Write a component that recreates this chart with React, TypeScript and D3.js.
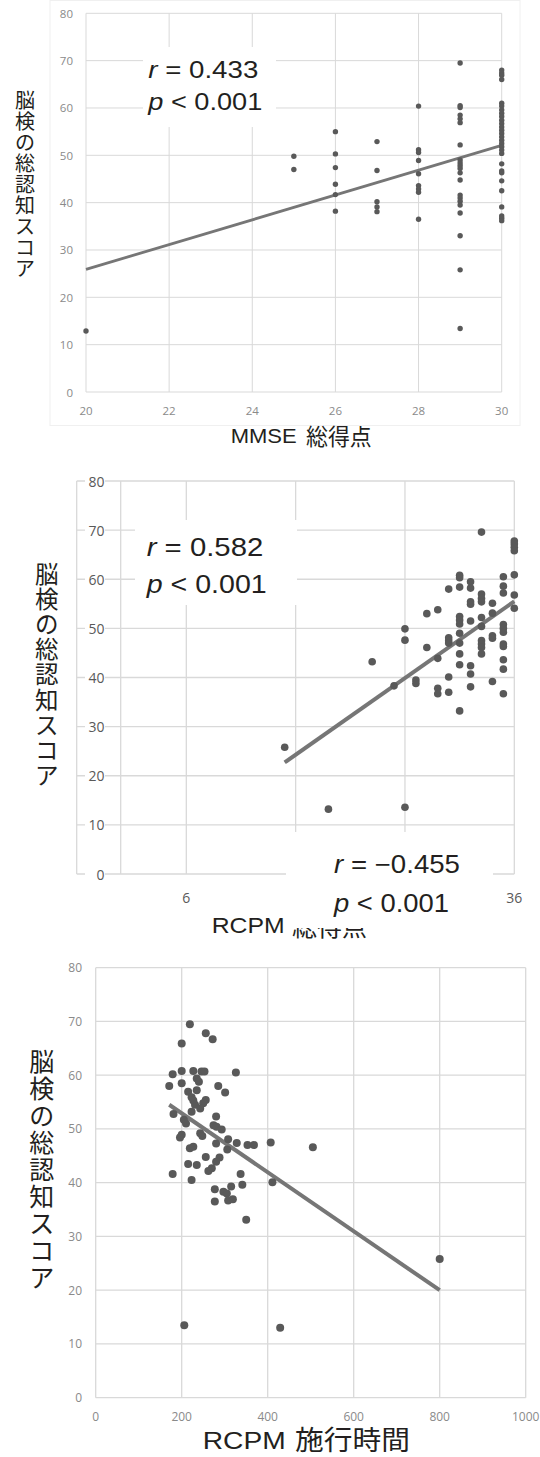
import React from 'react';
import * as d3 from 'd3';

// ---------- Data ----------
const yTitle = '脳検の総認知スコア';
const yTicks = [0, 10, 20, 30, 40, 50, 60, 70, 80];

// Chart 1: MMSE total vs score
const mmseX = [
  20,
  25, 25,
  26, 26, 26, 26, 26, 26,
  27, 27, 27, 27, 27,
  28, 28, 28, 28, 28, 28, 28, 28, 28,
  29, 29, 29, 29, 29, 29, 29, 29, 29, 29, 29, 29, 29, 29, 29, 29, 29, 29, 29, 29, 29,
  30, 30, 30, 30, 30, 30, 30, 30, 30, 30, 30, 30, 30, 30, 30, 30, 30, 30, 30, 30, 30, 30, 30, 30, 30, 30, 30, 30, 30,
];
const mmseY = [
  12.9,
  49.8, 47.0,
  55.0, 50.3, 47.4, 43.9, 41.7, 38.2,
  52.9, 46.8, 40.2, 39.1, 38.1,
  60.4, 51.2, 50.6, 48.9, 46.1, 43.6, 42.9, 42.2, 36.5,
  69.5, 60.5, 60.1, 58.5, 57.7, 56.9, 52.2, 49.0, 48.4, 47.8, 47.2, 46.3, 44.8, 41.6, 41.0, 40.3, 39.5, 37.8, 33.0, 25.8, 13.4,
  68.0, 67.4, 66.9, 66.0, 61.0, 60.4, 59.6, 58.9, 58.2, 57.4, 56.7, 56.0, 55.3, 54.6, 53.9, 53.2, 52.5, 51.8, 51.1, 50.4, 48.2, 46.7, 46.3, 44.6, 42.5, 39.1, 37.2, 36.7, 36.2,
];
const mmseTrendX = [20, 30];
const mmseTrendY = [25.9, 52.1];
const mmseXTicks = [20, 22, 24, 26, 28, 30];

// Chart 2: RCPM total vs score
const rcpmX = [
  15, 19, 26, 23, 25, 26, 26, 27, 27, 28, 28, 29, 29, 29, 29,
  30, 30, 30, 30, 30, 30,
  31, 31, 31, 31, 31, 31, 31, 31, 31, 31, 31,
  32, 32, 32, 32, 32, 32, 32, 32,
  33, 33, 33, 33, 33, 33, 33, 33, 33, 33,
  34, 34, 34, 34, 34,
  35, 35, 35, 35, 35, 35, 35, 35, 35, 35, 35,
  36, 36, 36, 36, 36, 36, 36,
];
const rcpmY = [
  25.8, 13.2, 13.6, 43.2, 38.3, 49.9, 47.6, 39.5, 38.8, 53.0, 46.1, 53.8, 43.9, 37.8, 36.7,
  58.0, 48.1, 47.5, 47.0, 40.1, 37.0,
  60.8, 60.3, 58.4, 52.4, 51.7, 50.9, 49.0, 47.0, 44.8, 42.6, 33.2,
  59.5, 58.2, 55.4, 54.9, 51.5, 42.4, 40.7, 38.1,
  69.6, 57.0, 56.1, 55.4, 52.2, 50.4, 47.5, 46.8, 46.1, 44.8,
  55.1, 53.1, 48.5, 48.0, 39.2,
  60.5, 58.6, 57.2, 50.8, 50.0, 49.2, 46.8, 46.3, 43.6, 41.7, 36.7,
  67.8, 67.2, 66.5, 65.8, 60.9, 56.8, 54.1,
];
const rcpmTrendX = [15, 36];
const rcpmTrendY = [22.7, 55.5];
const rcpmGridX = [0, 6, 16, 26, 36];
const rcpmXTicks = [6, 36];

// Chart 3: RCPM time vs score
const timeX = [
  219, 256, 272, 200, 179, 200, 227, 246, 253, 326, 171, 200, 235, 240, 285, 301, 215, 235,
  223, 227, 256, 250, 231, 243, 181, 223, 280, 205, 210, 274, 281, 293, 200, 196, 243, 248,
  308, 280, 328, 353, 368, 407, 505, 306, 219, 227, 256, 288, 280, 215, 235, 270, 262, 179,
  223, 337, 411, 341, 277, 315, 297, 305, 277, 308, 319, 350, 206, 429, 800,
];
const timeY = [
  69.5, 67.8, 66.7, 65.9, 60.2, 60.8, 60.8, 60.7, 60.7, 60.5, 58.0, 58.5, 59.4, 58.8, 58.0, 56.8, 56.9, 57.2,
  55.9, 55.3, 55.4, 54.8, 54.5, 53.8, 52.8, 53.2, 52.3, 51.7, 51.0, 50.7, 50.4, 49.9, 48.9, 48.4, 49.2, 48.7,
  48.1, 47.3, 47.4, 47.0, 47.0, 47.5, 46.6, 46.2, 46.4, 46.7, 44.8, 44.7, 43.9, 43.5, 43.3, 42.7, 42.2, 41.6,
  40.5, 41.6, 40.1, 39.6, 38.8, 39.3, 38.3, 38.0, 36.5, 36.7, 36.9, 33.1, 13.5, 13.0, 25.8,
];
const timeTrendX = [171, 800];
const timeTrendY = [54.5, 20.0];
const timeXTicks = [0, 200, 400, 600, 800, 1000];

// ---------- Styles ----------
const LATIN = "'Liberation Sans', Arial, sans-serif";
const CJK = "'Noto Sans CJK JP', sans-serif";
const TICK = "'Open Sans', 'Noto Sans', sans-serif";
const GRID = '#d9d9d9';
const DOT = '#595959';
const TREND = '#767676';
const INK = '#231f20';

type Pt = [number, number];
const zip = (a: number[], b: number[]): Pt[] => a.map((v, i) => [v, b[i]]);

function VTitle({ cx, y0, step, size }: { cx: number; y0: number; step: number; size: number }) {
  return (
    <g>
      {Array.from(yTitle).map((c, i) => (
        <text key={i} x={cx} y={y0 + i * step} textAnchor="middle" dominantBaseline="central"
          fontFamily={CJK} fontSize={size} fill={INK}>{c}</text>
      ))}
    </g>
  );
}

function Stats({ x, y1, y2, r, w1, w2, size }: { x: number; y1: number; y2: number; r: string; w1: number; w2: number; size: number }) {
  return (
    <g fontFamily={LATIN} fontSize={size} fill={INK}>
      <text x={x} y={y1} textLength={w1} lengthAdjust="spacingAndGlyphs">
        <tspan fontStyle="italic">r</tspan> = {r}
      </text>
      <text x={x} y={y2} textLength={w2} lengthAdjust="spacingAndGlyphs">
        <tspan fontStyle="italic">p</tspan> &lt; 0.001
      </text>
    </g>
  );
}

function Chart1() {
  const x = d3.scaleLinear().domain([20, 30]).range([86, 501.7]);
  const y = d3.scaleLinear().domain([0, 80]).range([392, 13.3]);
  const line = d3.line<Pt>().x((d) => x(d[0])).y((d) => y(d[1]));
  const pts = zip(mmseX, mmseY);
  return (
    <g>
      <rect x={50} y={0.5} width={470} height={425} fill="none" stroke="#f0f0f0" />
      {yTicks.map((t) => (
        <line key={'h' + t} x1={x(20)} x2={x(30)} y1={y(t)} y2={y(t)} stroke={GRID} strokeWidth={1} />
      ))}
      {mmseXTicks.map((t) => (
        <line key={'v' + t} x1={x(t)} x2={x(t)} y1={y(0)} y2={y(80)} stroke={GRID} strokeWidth={1} />
      ))}
      {yTicks.map((t) => (
        <text key={'yl' + t} x={73} y={y(t)} textAnchor="end" dominantBaseline="central"
          fontFamily={TICK} fontSize={11.5} fill="#8a8a8a">{t}</text>
      ))}
      {mmseXTicks.map((t) => (
        <text key={'xl' + t} x={x(t)} y={414.5} textAnchor="middle"
          fontFamily={TICK} fontSize={11.5} fill="#8a8a8a">{t}</text>
      ))}
      <path d={line(zip(mmseTrendX, mmseTrendY)) || ''} stroke={TREND} strokeWidth={2.8} fill="none" />
      {pts.map((d, i) => (
        <circle key={i} cx={x(d[0])} cy={y(d[1])} r={2.7} fill={DOT} />
      ))}
      <rect x={143} y={47} width={133} height={80} fill="#fff" />
      <Stats x={148.3} y1={78.3} y2={110} r="0.433" w1={110} w2={114} size={24} />
      <VTitle cx={25} y0={99} step={21.1} size={20} />
      <text x={230.7} y={442.7} fontFamily={LATIN} fontSize={21} fill={INK} textLength={66} lengthAdjust="spacingAndGlyphs">MMSE</text>
      <text x={306} y={445} fontFamily={CJK} fontSize={23} fill={INK} textLength={65.7} lengthAdjust="spacingAndGlyphs">総得点</text>
    </g>
  );
}

function Chart2() {
  const x = d3.scaleLinear().domain([0, 36]).range([120.7, 514.3]);
  const y = d3.scaleLinear().domain([0, 80]).range([874, 481]);
  const line = d3.line<Pt>().x((d) => x(d[0])).y((d) => y(d[1]));
  const pts = zip(rcpmX, rcpmY);
  const left = 76.7;
  return (
    <g>
      {yTicks.map((t) => (
        <line key={'h' + t} x1={left} x2={x(36)} y1={y(t)} y2={y(t)} stroke={GRID} strokeWidth={1.3} />
      ))}
      <line x1={left} x2={left} y1={y(0)} y2={y(80)} stroke={GRID} strokeWidth={1.3} />
      {rcpmGridX.map((t) => (
        <line key={'v' + t} x1={x(t)} x2={x(t)} y1={y(0)} y2={y(80)} stroke={GRID} strokeWidth={1.3} />
      ))}
      {yTicks.map((t) => (
        <g key={'yl' + t}>
          <rect x={85} y={y(t) - 7} width={20} height={14} fill="#fff" />
          <text x={104.5} y={y(t)} textAnchor="end" dominantBaseline="central"
            fontFamily={TICK} fontSize={14} fill="#595959">{t}</text>
        </g>
      ))}
      {rcpmXTicks.map((t) => (
        <text key={'xl' + t} x={x(t)} y={902.7} textAnchor="middle"
          fontFamily={TICK} fontSize={14} fill="#595959">{t}</text>
      ))}
      <path d={line(zip(rcpmTrendX, rcpmTrendY)) || ''} stroke={TREND} strokeWidth={4} fill="none" />
      {pts.map((d, i) => (
        <circle key={i} cx={x(d[0])} cy={y(d[1])} r={3.8} fill={DOT} />
      ))}
      <rect x={135} y={520} width={162} height={85} fill="#fff" />
      <Stats x={146.7} y1={556} y2={592.7} r="0.582" w1={116.6} w2={120} size={25} />
      <VTitle cx={46.7} y0={572.5} step={25.2} size={23.5} />
      <text x={211.7} y={933} fontFamily={LATIN} fontSize={22} fill={INK} textLength={73} lengthAdjust="spacingAndGlyphs">RCPM</text>
      <text x={292} y={936} fontFamily={CJK} fontSize={25} fill={INK} textLength={75} lengthAdjust="spacingAndGlyphs">総得点</text>
      <rect x={286} y={832} width={207} height={96} fill="#fff" />
      <Stats x={334} y1={872.7} y2={911.7} r={'\u22120.455'} w1={126} w2={115} size={25} />
    </g>
  );
}

function Chart3() {
  const x = d3.scaleLinear().domain([0, 1000]).range([95.7, 525.7]);
  const y = d3.scaleLinear().domain([0, 80]).range([1397.7, 967.7]);
  const line = d3.line<Pt>().x((d) => x(d[0])).y((d) => y(d[1]));
  const pts = zip(timeX, timeY);
  return (
    <g>
      {yTicks.map((t) => (
        <line key={'h' + t} x1={x(0)} x2={x(1000)} y1={y(t)} y2={y(t)} stroke={GRID} strokeWidth={1.3} />
      ))}
      {timeXTicks.map((t) => (
        <line key={'v' + t} x1={x(t)} x2={x(t)} y1={y(0)} y2={y(80)} stroke={GRID} strokeWidth={1.3} />
      ))}
      {yTicks.map((t) => (
        <text key={'yl' + t} x={82} y={y(t)} textAnchor="end" dominantBaseline="central"
          fontFamily={TICK} fontSize={12} fill="#8a8a8a">{t}</text>
      ))}
      {timeXTicks.map((t) => (
        <text key={'xl' + t} x={x(t)} y={1421} textAnchor="middle"
          fontFamily={TICK} fontSize={12} fill="#8a8a8a">{t}</text>
      ))}
      <path d={line(zip(timeTrendX, timeTrendY)) || ''} stroke={TREND} strokeWidth={4} fill="none" />
      {pts.map((d, i) => (
        <circle key={i} cx={x(d[0])} cy={y(d[1])} r={4} fill={DOT} />
      ))}
      <VTitle cx={41.7} y0={1060} step={27} size={25} />
      <text x={202.7} y={1449} fontFamily={LATIN} fontSize={24.5} fill={INK} textLength={83} lengthAdjust="spacingAndGlyphs">RCPM</text>
      <text x={295} y={1450} fontFamily={CJK} fontSize={27} fill={INK} textLength={115} lengthAdjust="spacingAndGlyphs">施行時間</text>
    </g>
  );
}

export default function App() {
  return (
    <svg width={540} height={1457} viewBox="0 0 540 1457"
      style={{ position: 'absolute', left: 0, top: 0, background: '#fff' }}>
      <rect x={0} y={0} width={540} height={1457} fill="#fff" />
      <Chart1 />
      <Chart2 />
      <Chart3 />
    </svg>
  );
}
